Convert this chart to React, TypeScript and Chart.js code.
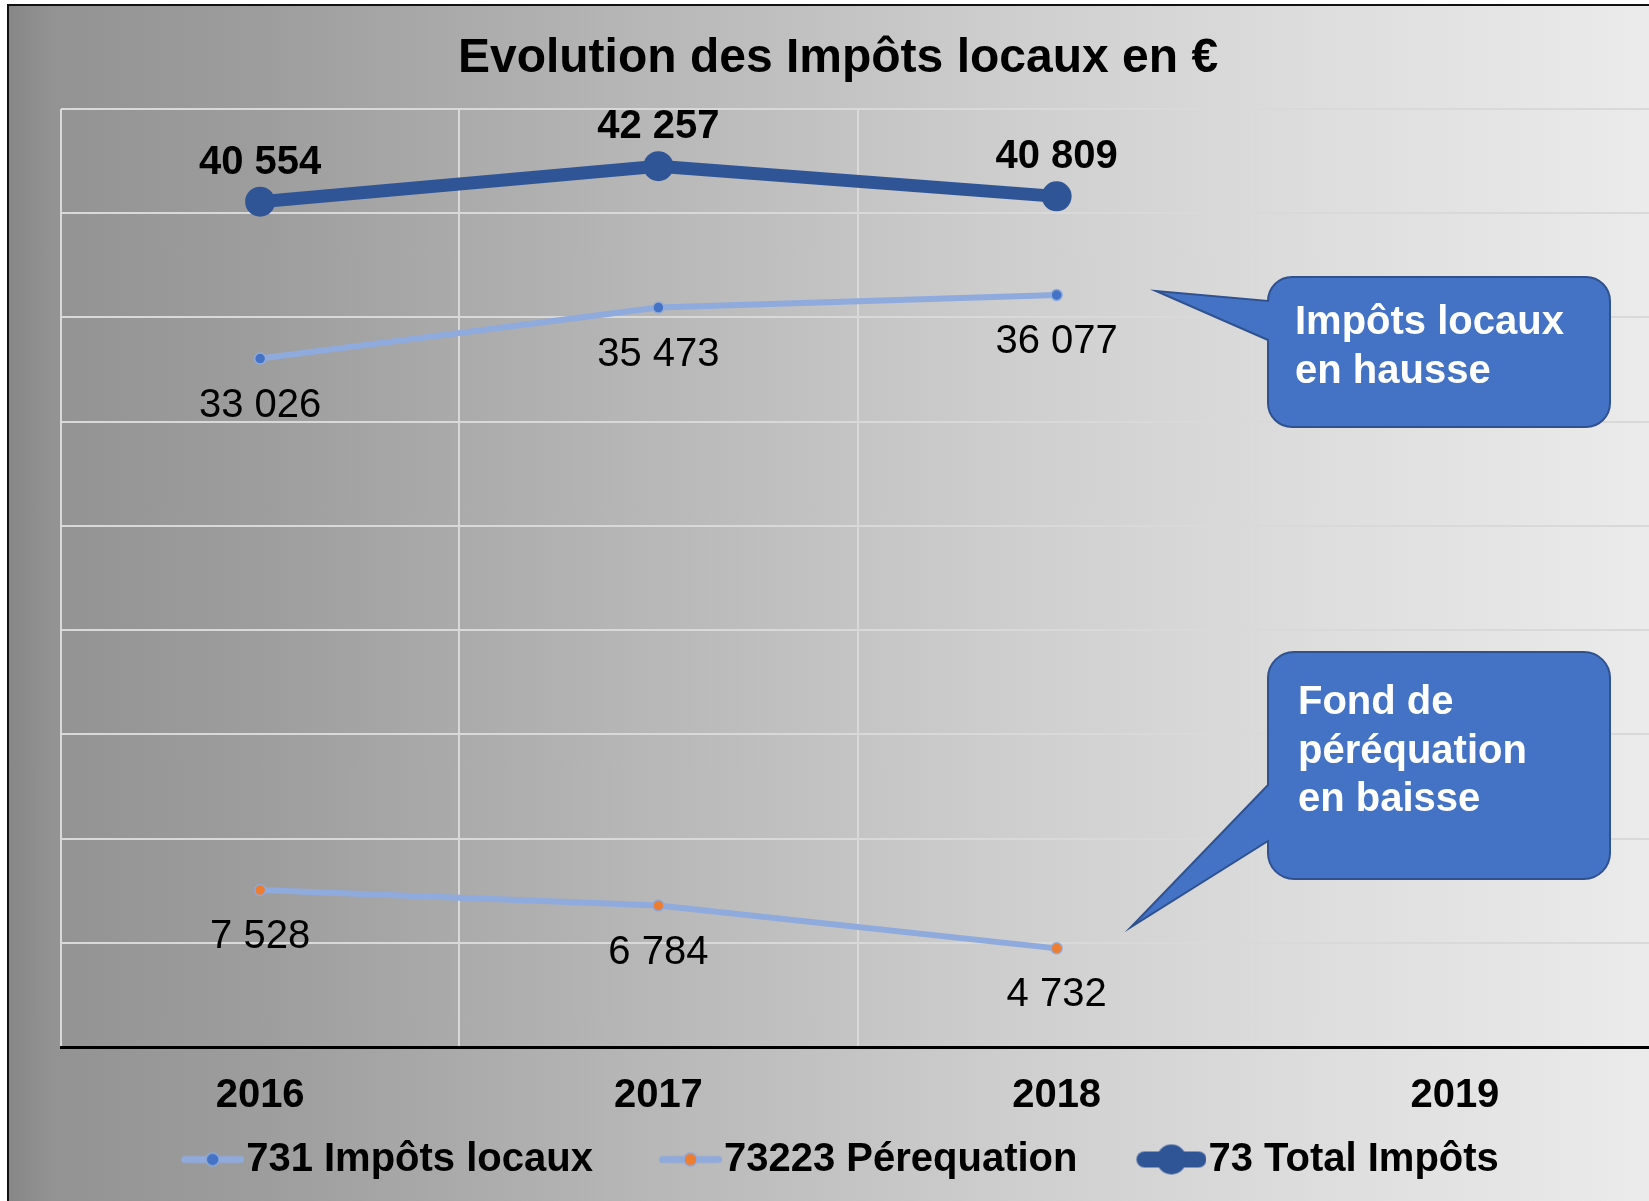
import React, { useEffect, useRef } from 'react';
import { Chart, registerables } from 'chart.js';

Chart.register(...registerables);

// ---- Data ----
const years = ['2016', '2017', '2018', '2019'];
const impotsLocaux = [33026, 35473, 36077, null];
const perequation = [7528, 6784, 4732, null];
const totalImpots = [40554, 42257, 40809, null];
const seriesNames = ['731 Impôts locaux', '73223 Pérequation', '73 Total Impôts'];
const yMin = 0;
const yMax = 45000;
const yStep = 5000;
const chartTitle = 'Evolution des Impôts locaux en €';
const callout1Lines = ['Impôts locaux', 'en hausse'];
const callout2Lines = ['Fond de', 'péréquation', 'en baisse'];

// ---- Styles ----
const FONT = '"Liberation Sans", Arial, Helvetica, sans-serif';
const LIGHT_BLUE = '#8faadc';
const MID_BLUE = '#4472c4';
const DARK_BLUE = '#2f5597';
const ORANGE = '#ed7d31';
const GRID = '#d9d9d9';
const CANVAS_W = 1660;
const CANVAS_H = 1240;

const fmt = (v: number) => String(v).replace(/\B(?=(\d{3})+(?!\d))/g, ' ');

function makeIcon(visStart: number, lineColor: string, lineW: number, r: number, fill: string, stroke: string, strokeW: number) {
  const w = 85;
  const h = 36;
  const c = document.createElement('canvas');
  c.width = w;
  c.height = h;
  const ctx = c.getContext('2d')!;
  ctx.strokeStyle = lineColor;
  ctx.lineWidth = lineW;
  ctx.lineCap = 'round';
  ctx.beginPath();
  ctx.moveTo(visStart + lineW / 2, h / 2);
  ctx.lineTo(w - lineW / 2, h / 2);
  ctx.stroke();
  const cx = (visStart + w) / 2;
  ctx.beginPath();
  ctx.arc(cx, h / 2, r, 0, Math.PI * 2);
  ctx.fillStyle = fill;
  ctx.fill();
  if (strokeW > 0) {
    ctx.lineWidth = strokeW;
    ctx.strokeStyle = stroke;
    ctx.stroke();
  }
  return c;
}

type Callout = {
  x: number; y: number; w: number; h: number; r: number;
  tipX: number; tipY: number; baseY1: number; baseY2: number;
  textX: number; baselines: number[]; lines: string[];
};

const callouts: Callout[] = [
  { x: 1259, y: 271, w: 342, h: 150, r: 24, tipX: 1147, tipY: 285, baseY1: 295, baseY2: 334, textX: 1286, baselines: [328, 377], lines: callout1Lines },
  { x: 1259, y: 646, w: 342, h: 227, r: 26, tipX: 1122, tipY: 921, baseY1: 779, baseY2: 835, textX: 1289, baselines: [708, 757, 805], lines: callout2Lines },
];

function drawCallout(ctx: CanvasRenderingContext2D, c: Callout) {
  const { x, y, w, h, r } = c;
  ctx.save();
  ctx.beginPath();
  ctx.moveTo(x + r, y);
  ctx.lineTo(x + w - r, y);
  ctx.arcTo(x + w, y, x + w, y + r, r);
  ctx.lineTo(x + w, y + h - r);
  ctx.arcTo(x + w, y + h, x + w - r, y + h, r);
  ctx.lineTo(x + r, y + h);
  ctx.arcTo(x, y + h, x, y + h - r, r);
  ctx.lineTo(x, c.baseY2);
  ctx.lineTo(c.tipX, c.tipY);
  ctx.lineTo(x, c.baseY1);
  ctx.lineTo(x, y + r);
  ctx.arcTo(x, y, x + r, y, r);
  ctx.closePath();
  ctx.fillStyle = MID_BLUE;
  ctx.fill();
  ctx.lineWidth = 2;
  ctx.strokeStyle = '#2f528f';
  ctx.stroke();
  ctx.fillStyle = '#ffffff';
  ctx.font = `bold 40px ${FONT}`;
  ctx.textAlign = 'left';
  ctx.textBaseline = 'alphabetic';
  c.lines.forEach((t, i) => ctx.fillText(t, c.textX, c.baselines[i]));
  ctx.restore();
}

const valueLabels = {
  id: 'valueLabels',
  afterDatasetsDraw(chart: any) {
    const ctx = chart.ctx as CanvasRenderingContext2D;
    chart.data.datasets.forEach((ds: any, i: number) => {
      const meta = chart.getDatasetMeta(i);
      const isTotal = i === 2;
      ctx.save();
      ctx.font = `${isTotal ? 'bold ' : ''}40px ${FONT}`;
      ctx.fillStyle = '#000';
      ctx.textAlign = 'center';
      ctx.textBaseline = 'alphabetic';
      meta.data.forEach((pt: any, j: number) => {
        const v = ds.data[j];
        if (v == null) return;
        ctx.fillText(fmt(v), pt.x, pt.y + (isTotal ? -28 : 58));
      });
      ctx.restore();
    });
  },
};

// Moves the legend box up so it sits just under the axis labels.
const legendShift = {
  id: 'legendShift',
  afterLayout(chart: any) {
    const lg = chart.legend;
    const xs = chart.scales.x;
    if (!lg || !xs) return;
    const h = lg.height;
    lg.top = xs.top + 30.5;
    lg.bottom = lg.top + h;
  },
};

const calloutPlugin = {
  id: 'callouts',
  afterDraw(chart: any) {
    callouts.forEach((c) => drawCallout(chart.ctx, c));
  },
};

export default function App() {
  const ref = useRef<HTMLCanvasElement | null>(null);

  useEffect(() => {
    if (!ref.current) return;
    Chart.defaults.font.family = FONT;
    const icons = [
      makeIcon(22, LIGHT_BLUE, 7, 6.5, MID_BLUE, LIGHT_BLUE, 1.5),
      makeIcon(22, LIGHT_BLUE, 7, 6.5, ORANGE, LIGHT_BLUE, 1.5),
      makeIcon(15, DARK_BLUE, 16, 15, DARK_BLUE, DARK_BLUE, 0),
    ];
    const chart = new Chart(ref.current, {
      type: 'line',
      data: {
        labels: years,
        datasets: [
          {
            label: seriesNames[0],
            data: impotsLocaux,
            borderColor: LIGHT_BLUE,
            borderWidth: 6,
            pointRadius: 5.5,
            pointBackgroundColor: MID_BLUE,
            pointBorderColor: LIGHT_BLUE,
            pointBorderWidth: 1.5,
            tension: 0,
          },
          {
            label: seriesNames[1],
            data: perequation,
            borderColor: LIGHT_BLUE,
            borderWidth: 6,
            pointRadius: 5.5,
            pointBackgroundColor: ORANGE,
            pointBorderColor: LIGHT_BLUE,
            pointBorderWidth: 1.5,
            tension: 0,
          },
          {
            label: seriesNames[2],
            data: totalImpots,
            borderColor: DARK_BLUE,
            borderWidth: 13,
            pointRadius: 15,
            pointBackgroundColor: DARK_BLUE,
            pointBorderColor: DARK_BLUE,
            pointBorderWidth: 0,
            tension: 0,
          },
        ],
      },
      options: {
        responsive: false,
        animation: false,
        events: [],
        layout: { padding: { left: 10, right: 12, top: 0, bottom: 6 } },
        scales: {
          x: {
            type: 'category',
            offset: true,
            grid: { color: GRID, lineWidth: 2, drawTicks: false, offset: true },
            border: { display: true, color: '#000', width: 3 },
            ticks: { color: '#000', font: { size: 40, weight: 'bold' }, padding: 24.5, maxRotation: 0, autoSkip: false },
            afterFit: (s: any) => { s.height = 81; },
          },
          y: {
            min: yMin,
            max: yMax,
            ticks: { display: false, stepSize: yStep },
            grid: { color: GRID, lineWidth: 2, drawTicks: false },
            border: { display: false },
            afterFit: (s: any) => { s.width = 42; },
          },
        },
        plugins: {
          title: {
            display: true,
            text: chartTitle,
            color: '#000',
            font: { size: 48, weight: 'bold' },
            padding: { top: 23.5, bottom: 21.9 },
          },
          legend: {
            display: true,
            position: 'bottom',
            labels: {
              usePointStyle: true,
              pointStyleWidth: 49,
              padding: 62,
              color: '#000',
              font: { size: 40, weight: 'bold' },
              generateLabels: (ch: any) =>
                ch.data.datasets.map((ds: any, i: number) => ({
                  text: ds.label,
                  pointStyle: icons[i],
                  fillStyle: 'transparent',
                  strokeStyle: 'transparent',
                  lineWidth: 0,
                  hidden: false,
                  datasetIndex: i,
                  fontColor: '#000',
                })),
            },
          },
          tooltip: { enabled: false },
        },
      } as any,
      plugins: [valueLabels, legendShift, calloutPlugin],
    });
    return () => chart.destroy();
  }, []);

  return (
    <div style={{ position: 'fixed', left: 0, top: 0, width: 1649, height: 1201, overflow: 'hidden', background: '#ffffff' }}>
      <div
        style={{
          position: 'absolute',
          left: 7,
          top: 4,
          width: CANVAS_W,
          height: CANVAS_H,
          border: '2px solid #111',
          background:
            'linear-gradient(to right, #878787 0px, #939393 45px, #9d9d9d 250px, #b6b6b6 620px, #cecece 1000px, #dddddd 1300px, #e7e7e7 1550px, #ececec 1660px)',
        }}
      >
        <canvas ref={ref} width={CANVAS_W} height={CANVAS_H} style={{ display: 'block', width: CANVAS_W, height: CANVAS_H }} />
      </div>
    </div>
  );
}
